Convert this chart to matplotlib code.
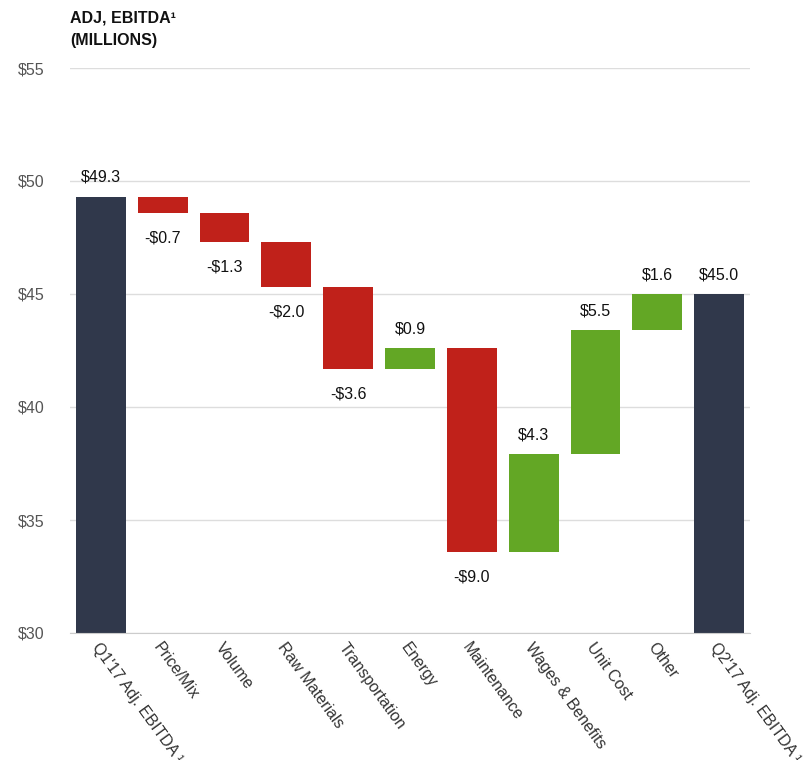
import matplotlib
matplotlib.use("Agg")
import matplotlib.pyplot as plt
import numpy as np

plt.rcParams['font.family'] = ['Liberation Sans', 'DejaVu Sans']

categories = ["Q1'17 Adj. EBITDA ¹", "Price/Mix", "Volume", "Raw Materials",
              "Transportation", "Energy", "Maintenance", "Wages & Benefits",
              "Unit Cost", "Other", "Q2'17 Adj. EBITDA ¹"]
start_total = 49.3
changes = [-0.7, -1.3, -2.0, -3.6, 0.9, -9.0, 4.3, 5.5, 1.6]
end_total = 45.0
y_ticks = [30, 35, 40, 45, 50, 55]

NAVY = "#30384b"
RED = "#c0211a"
GREEN = "#63a725"

fig = plt.figure(figsize=(8.07, 7.6), dpi=100)
ax = fig.add_axes([70/807, 1-633/760, 680/807, (633-68)/760])

width = 0.806
x = np.arange(len(categories))

def label(xpos, yval, text, above):
    ax.annotate(text, (xpos, yval), xytext=(0, 14 if above else -18),
                textcoords="offset points", ha="center", va="center",
                fontsize=11.5, color="#111111")

# opening total
ax.bar(x[0], start_total - 30, bottom=30, width=width, color=NAVY, zorder=3)
label(x[0], start_total, f"${start_total:.1f}", True)

running = start_total
for i, d in enumerate(changes, start=1):
    new = running + d
    lo, hi = min(running, new), max(running, new)
    ax.bar(x[i], hi - lo, bottom=lo, width=width,
           color=GREEN if d > 0 else RED, zorder=3)
    if d > 0:
        label(x[i], hi, f"${d:.1f}", True)
    else:
        label(x[i], lo, f"-${abs(d):.1f}", False)
    running = new

# closing total
ax.bar(x[-1], end_total - 30, bottom=30, width=width, color=NAVY, zorder=3)
label(x[-1], end_total, f"${end_total:.1f}", True)

ax.set_xlim(-0.5, len(categories) - 0.5)
ax.set_ylim(30, 55)
ax.set_yticks(y_ticks)
ax.set_yticklabels([f"${v}" for v in y_ticks], fontsize=11.5, color="#555555")
ax.yaxis.grid(True, color="#dddddd", linewidth=1, zorder=0)
ax.tick_params(axis="y", length=0, pad=18)
ax.tick_params(axis="x", length=0, pad=5)
ax.set_xticks(x)
ax.set_xticklabels(categories, rotation=-54, ha="left", rotation_mode="anchor",
                   fontsize=11.5, color="#333333")
for s in ["top", "right", "left"]:
    ax.spines[s].set_visible(False)
ax.spines["bottom"].set_color("#cccccc")
ax.spines["bottom"].set_zorder(4)

fig.text(70/807, 1-18/760, "ADJ, EBITDA¹", fontsize=11.5, fontweight="bold",
         color="#111111", va="center", ha="left")
fig.text(70/807, 1-40/760, "(MILLIONS)", fontsize=11.5, fontweight="bold",
         color="#111111", va="center", ha="left")

fig.savefig("out.png", dpi=100)
